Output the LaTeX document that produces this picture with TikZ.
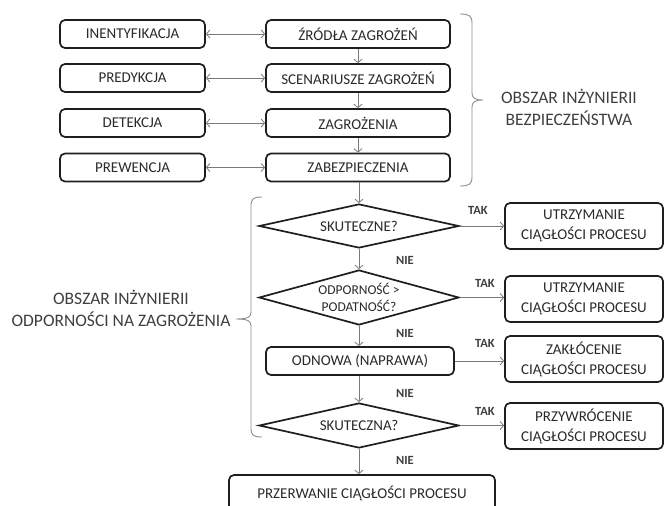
\documentclass[tikz,border=0pt]{standalone}
\usepackage{fontspec}
\setmainfont{Carlito}
\usetikzlibrary{shapes.geometric,arrows.meta}
\definecolor{txt}{HTML}{2A2A2A}
\definecolor{edge}{HTML}{1E1E1E}
\definecolor{arr}{HTML}{7A7A7A}
\tikzset{
  x=1pt,y=-1pt,
  every node/.style={text=txt},
  boxnode/.style={draw=edge,line width=1.7pt,rounded corners=5pt,inner sep=0pt,
     align=center,font=\fontsize{15}{20}\selectfont},
  leftbox/.style={boxnode,minimum width=145pt,minimum height=28pt},
  midbox/.style={boxnode,minimum width=184pt,minimum height=28pt},
  rightbox/.style={boxnode,minimum width=158pt,minimum height=46pt},
  decision/.style={diamond,draw=edge,line width=1.7pt,inner sep=0pt,aspect=4,
     minimum width=200pt,align=center,font=\fontsize{15}{20}\selectfont},
  flow/.style={draw=arr,line width=0.8pt,-{Straight Barb[length=3.5pt,width=8pt]}},
  twoway/.style={draw=arr,line width=0.8pt,{Straight Barb[length=3.5pt,width=8pt]}-{Straight Barb[length=3.5pt,width=8pt]}},
  lbl/.style={font=\bfseries\fontsize{12.5}{14}\selectfont,inner sep=0pt,text=txt!90},
  area/.style={align=center,font=\fontsize{17.5}{22}\selectfont,inner sep=0pt,text=txt!90},
  bracestyle/.style={draw=arr!85,line width=0.9pt}
}
\begin{document}
\begin{tikzpicture}
\useasboundingbox (0,0) rectangle (665,506);
% left column
\node[leftbox] (l1) at (132.5,34) {INENTYFIKACJA};
\node[leftbox] (l2) at (132.5,78) {PREDYKCJA};
\node[leftbox] (l3) at (132.5,123) {DETEKCJA};
\node[leftbox] (l4) at (132.5,167.5) {PREWENCJA};
% middle column
\node[midbox] (m1) at (358,34) {ŹRÓDŁA ZAGROŻEŃ};
\node[midbox] (m2) at (358,78) {SCENARIUSZE ZAGROŻEŃ};
\node[midbox] (m3) at (358,123) {ZAGROŻENIA};
\node[midbox] (m4) at (358,167.5) {ZABEZPIECZENIA};
\foreach \i in {1,...,4} {\draw[twoway] (l\i.east) -- (m\i.west);}
\draw[flow] (m1) -- (m2);
\draw[flow] (m2) -- (m3);
\draw[flow] (m3) -- (m4);
% decision chain
\node[decision,minimum height=44pt] (d1) at (359,226) {SKUTECZNE?};
\node[decision,minimum height=55pt,font=\fontsize{13.5}{17}\selectfont] (d2) at (359,297.5) {ODPORNOŚĆ >\\PODATNOŚĆ?};
\node[boxnode,minimum width=188pt,minimum height=28pt] (odn) at (360,361) {ODNOWA (NAPRAWA)};
\node[decision,minimum height=45pt] (d3) at (359,425.5) {SKUTECZNA?};
\node[boxnode,minimum width=266pt,minimum height=36pt] (fin) at (362,493) {PRZERWANIE CIĄGŁOŚCI PROCESU};
\draw[flow] (m4.south -| d1.north) -- (d1.north);
\draw[flow] (d1.south) -- (d2.north);
\draw[flow] (d2.south) -- (d2.south |- odn.north);
\draw[flow] (d2.south |- odn.south) -- (d3.north);
\draw[flow] (d3.south) -- (d3.south |- fin.north);
% right column
\node[rightbox] (r1) at (584,226) {UTRZYMANIE\\CIĄGŁOŚCI PROCESU};
\node[rightbox] (r2) at (584,299) {UTRZYMANIE\\CIĄGŁOŚCI PROCESU};
\node[rightbox] (r3) at (584,359) {ZAKŁÓCENIE\\CIĄGŁOŚCI PROCESU};
\node[rightbox] (r4) at (584,426) {PRZYWRÓCENIE\\CIĄGŁOŚCI PROCESU};
\draw[flow] (d1.east) -- (d1.east -| r1.west);
\draw[flow] (d2.east) -- (d2.east -| r2.west);
\draw[flow] (odn.east) -- (odn.east -| r3.west);
\draw[flow] (d3.east) -- (d3.east -| r4.west);
% labels
\node[lbl] (t1) at (478,210) {TAK};
\node[lbl] (t2) at (485,283) {TAK};
\node[lbl] (t3) at (485,343) {TAK};
\node[lbl] (t4) at (485,411) {TAK};
\node[lbl] (n1) at (405,260) {NIE};
\node[lbl] (n2) at (405,333) {NIE};
\node[lbl] (n3) at (405,393) {NIE};
\node[lbl] (n4) at (405,460) {NIE};
% braces
\draw[bracestyle] (460,14) .. controls (469,14) and (472,16) .. (472,23) -- (472,93)
   .. controls (472,98) and (475,100) .. (483,100)
   .. controls (475,100) and (472,102) .. (472,107) -- (472,177)
   .. controls (472,184) and (469,186) .. (460,186);
\node[area] (a1) at (569,107) {OBSZAR INŻYNIERII\\BEZPIECZEŃSTWA};
\draw[bracestyle] (262,197) .. controls (253,197) and (251,199) .. (251,206) -- (251,312)
   .. controls (251,317) and (248,319) .. (236,319)
   .. controls (248,319) and (251,321) .. (251,326) -- (251,428)
   .. controls (251,435) and (253,437) .. (262,437);
\node[area] (a2) at (121,308) {OBSZAR INŻYNIERII\\ODPORNOŚCI NA ZAGROŻENIA};
\end{tikzpicture}
\end{document}
